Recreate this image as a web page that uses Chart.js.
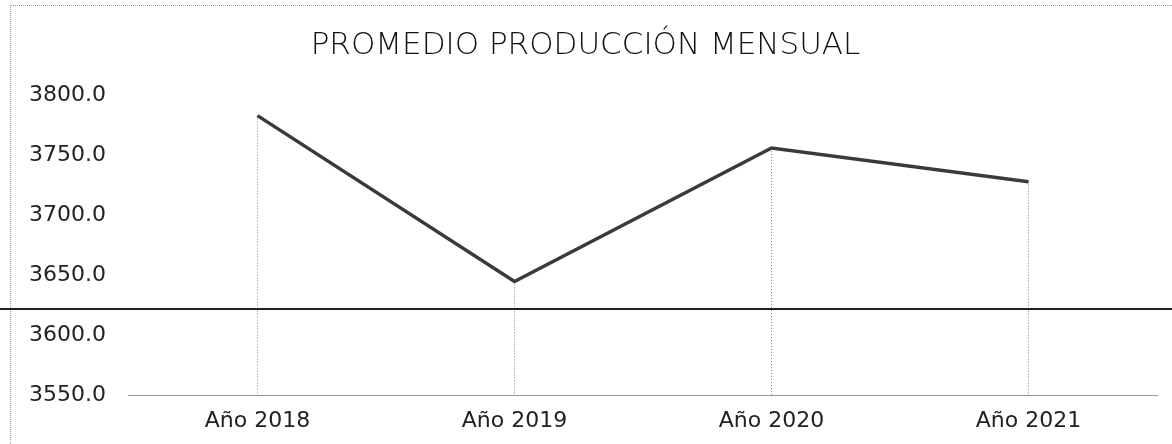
<!DOCTYPE html>
<html>
<head>
<meta charset="utf-8">
<script src="https://cdn.jsdelivr.net/npm/chart.js@4.4.1/dist/chart.umd.min.js"></script>
<style>
  html, body { margin: 0; padding: 0; background: #fff; }
  #wrap { position: relative; width: 1172px; height: 444px; }
  #frame { position: absolute; left: 10px; top: 5px; right: 0; bottom: 0;
           border-top: 1px dotted #999; border-left: 1px dotted #999; }
  canvas { position: absolute; left: 0; top: 0; }
</style>
</head>
<body>
<div id="wrap">
  <div id="frame"></div>
  <canvas id="grafica" width="1172" height="444"></canvas>
</div>
<script>
// Datos del gráfico
const categorias = ['Año 2018', 'Año 2019', 'Año 2020', 'Año 2021'];
const promedios = [3783, 3645, 3756, 3728];
const ejeMin = 3550;
const ejeMax = 3800;
const paso = 50;
const lineaEscaneo = 3622; // raya negra del escaneo

// líneas punteadas verticales desde cada punto hasta el eje
const lineasCaida = {
  id: 'lineasCaida',
  beforeDatasetsDraw(chart) {
    const ctx = chart.ctx;
    const meta = chart.getDatasetMeta(0);
    const yBase = chart.scales.y.getPixelForValue(ejeMin);
    ctx.save();
    ctx.strokeStyle = '#888';
    ctx.lineWidth = 1;
    ctx.setLineDash([1, 2]);
    meta.data.forEach(p => {
      ctx.beginPath();
      ctx.moveTo(Math.round(p.x) + 0.5, p.y);
      ctx.lineTo(Math.round(p.x) + 0.5, yBase);
      ctx.stroke();
    });
    ctx.restore();
  },
  afterDraw(chart) {
    const ctx = chart.ctx;
    const y = Math.round(chart.scales.y.getPixelForValue(lineaEscaneo));
    ctx.save();
    ctx.strokeStyle = '#222';
    ctx.lineWidth = 2;
    ctx.beginPath();
    ctx.moveTo(0, y);
    ctx.lineTo(chart.width, y);
    ctx.stroke();
    ctx.restore();
  }
};

new Chart(document.getElementById('grafica').getContext('2d'), {
  type: 'line',
  data: {
    labels: categorias,
    datasets: [{
      data: promedios,
      borderColor: '#3a3a3a',
      borderWidth: 3.5,
      pointRadius: 0,
      tension: 0,
      fill: false
    }]
  },
  options: {
    responsive: false,
    animation: false,
    layout: { padding: { top: 8, left: 14, right: 15, bottom: 6 } },
    plugins: {
      legend: { display: false },
      tooltip: { enabled: false },
      title: {
        display: true,
        text: 'PROMEDIO PRODUCCIÓN MENSUAL',
        color: '#111',
        font: { family: 'DejaVu Sans', size: 31, weight: 200 },
        padding: { top: 19, bottom: 31 }
      }
    },
    scales: {
      x: {
        offset: true,
        grid: { display: false },
        border: { display: true, color: '#999', dash: [1, 2] },
        ticks: { color: '#222', font: { family: 'DejaVu Sans', size: 22 }, padding: 4 }
      },
      y: {
        min: ejeMin,
        max: ejeMax,
        grid: { display: false },
        border: { display: false },
        ticks: {
          stepSize: paso,
          color: '#222',
          padding: 15,
          font: { family: 'DejaVu Sans', size: 22 },
          callback: v => v.toFixed(1)
        }
      }
    }
  },
  plugins: [lineasCaida]
});
</script>
</body>
</html>
